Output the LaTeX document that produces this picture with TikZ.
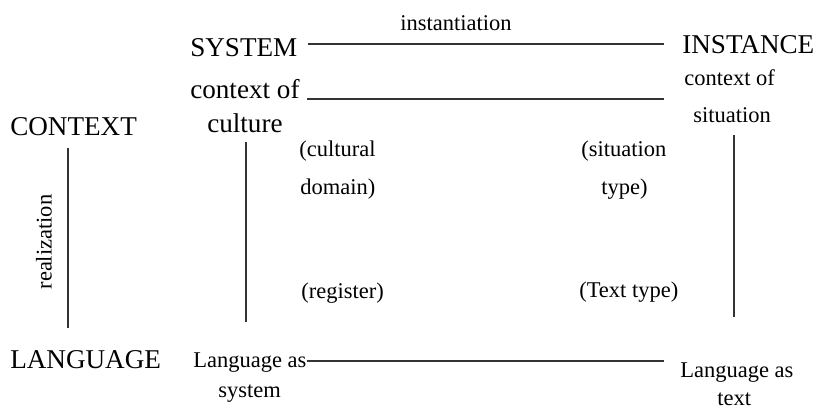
\documentclass[tikz,border=0pt]{standalone}
\usepackage{fontspec}
\setmainfont{Liberation Serif}

\begin{document}
\begin{tikzpicture}[x=0.025cm, y=-0.025cm]
	\tikzset{
		big/.style={inner sep=0pt, anchor=base west, font=\fontsize{19.3}{23}\selectfont},
		small/.style={inner sep=0pt, anchor=base west, font=\fontsize{16}{19}\selectfont},
		rule/.style={line width=0.75pt, draw=black!80},
	}
	\useasboundingbox (0,0) rectangle (816,408);
	\node[small](instlabel) at (400,30) {instantiation};
	\node[big](system) at (190,56) {SYSTEM};
	\node[big](instance) at (682,53) {INSTANCE};
	\node[big](cxtof) at (190,98) {context of};
	\node[big](culture) at (207,132) {culture};
	\node[small](sitcxt) at (684,85) {context of};
	\node[small](situation) at (693,122) {situation};
	\node[big](context) at (10,135) {CONTEXT};
	\node[small, anchor=center, rotate=90](realization) at (44,242) {realization};
	\node[small](cultdom) at (299,156) {(cultural};
	\node[small](domain) at (300,194) {domain)};
	\node[small](sittype) at (581,156) {(situation};
	\node[small](type) at (601,194) {type)};
	\node[small](register) at (301,298) {(register)};
	\node[small](texttype) at (579,297) {(Text type)};
	\node[big](language) at (10,368) {LANGUAGE};
	\node[small](langsys) at (193,367) {Language as};
	\node[small](system2) at (218,397) {system};
	\node[small](langtext) at (680,377) {Language as};
	\node[small](text) at (717,405) {text};
	%line ends
	\coordinate (topR) at (664,44);
	\coordinate (midL) at (307,99);
	\coordinate (midR) at (664,99);
	\coordinate (lowR) at (664,361);
	\coordinate (realTop) at (68,148);
	\coordinate (realBot) at (68,328);
	\coordinate (cultTop) at (246,142);
	\coordinate (cultBot) at (246,322);
	\coordinate (sitTop) at (734,135);
	\coordinate (sitBot) at (734,317);
	%draw lines
	\draw[rule] (system.east |- topR) ++(10,0) -- (topR);
	\draw[rule] (midL) -- (midR);
	\draw[rule] (langsys.east |- lowR) -- (lowR);
	\draw[rule] (realTop) -- (realBot);
	\draw[rule] (cultTop) -- (cultBot);
	\draw[rule] (sitTop) -- (sitBot);
\end{tikzpicture}
\end{document}
